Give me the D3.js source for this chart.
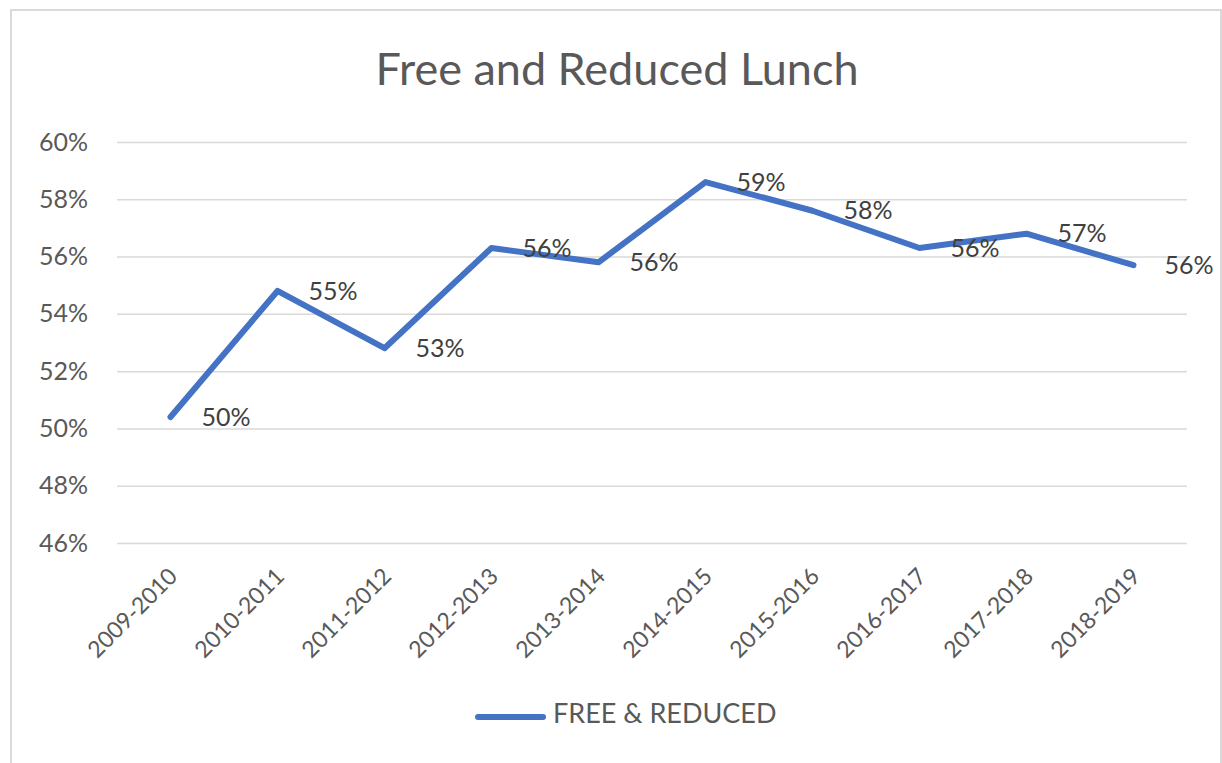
<!DOCTYPE html>
<html>
<head>
<meta charset="utf-8">
<script src="https://cdn.jsdelivr.net/npm/d3@7"></script>
<style>
  body { margin: 0; background: #fff; }
  svg { display: block; font-family: Lato, "Open Sans", sans-serif; }
</style>
</head>
<body>
<svg width="1222" height="763"></svg>
<script>
// chart data
var years = ['2009-2010', '2010-2011', '2011-2012', '2012-2013', '2013-2014',
             '2014-2015', '2015-2016', '2016-2017', '2017-2018', '2018-2019']
var freeReduced = [0.504, 0.548, 0.528, 0.563, 0.558, 0.586, 0.576, 0.563, 0.568, 0.557]
var yTicks = [0.46, 0.48, 0.50, 0.52, 0.54, 0.56, 0.58, 0.60]
var seriesName = 'FREE & REDUCED'
var title = 'Free and Reduced Lunch'

var svg = d3.select('svg')
var blue = '#4472c4'
var grid = '#d9d9d9'

// outer chart frame
svg.append('rect')
    .attr('x', 11).attr('y', 10)
    .attr('width', 1210).attr('height', 800)
    .attr('fill', 'none')
    .attr('stroke', grid)
    .attr('stroke-width', 2)

// scales
var x = d3.scalePoint().domain(years).range([117, 1187]).padding(0.5)
var y = d3.scaleLinear().domain([0.46, 0.60]).range([543, 142])

// title
svg.append('text')
    .attr('x', 617).attr('y', 85)
    .attr('text-anchor', 'middle')
    .attr('font-size', 45)
    .attr('fill', '#595959')
    .text(title)

// y axis with gridlines
var yAxis = d3.axisLeft(y)
    .tickValues(yTicks)
    .tickFormat(d3.format('.0%'))
    .tickSize(-(1187 - 117))
    .tickPadding(29)

var gy = svg.append('g')
    .attr('transform', 'translate(117,0)')
    .call(yAxis)
gy.select('.domain').remove()
gy.selectAll('line').attr('stroke', grid).attr('stroke-width', 1.5)
gy.selectAll('text')
    .attr('font-size', 25)
    .attr('font-family', 'Lato, sans-serif')
    .attr('fill', '#595959')

// x axis labels, rotated
var xAxis = d3.axisBottom(x).tickSize(0).tickPadding(0)
var gx = svg.append('g')
    .attr('transform', 'translate(0,543)')
    .call(xAxis)
gx.select('.domain').remove()
gx.selectAll('text')
    .attr('font-size', 23)
    .attr('font-family', 'Lato, sans-serif')
    .attr('fill', '#595959')
    .attr('text-anchor', 'end')
    .attr('dy', '0.35em')
    .attr('y', 0)
    .attr('transform', 'translate(2,29) rotate(-45)')

// the line
var line = d3.line()
    .x(function(d, i) { return x(years[i]) })
    .y(function(d) { return y(d) })

svg.append('path')
    .datum(freeReduced)
    .attr('d', line)
    .attr('fill', 'none')
    .attr('stroke', blue)
    .attr('stroke-width', 6)
    .attr('stroke-linejoin', 'round')
    .attr('stroke-linecap', 'round')

// data labels
svg.selectAll('.label')
    .data(freeReduced)
    .join('text')
    .attr('class', 'label')
    .attr('x', function(d, i) { return x(years[i]) + 31 })
    .attr('y', function(d) { return y(d) })
    .attr('dy', '0.35em')
    .attr('font-size', 25)
    .attr('fill', '#404040')
    .text(function(d) { return d3.format('.0%')(d) })

// legend
svg.append('line')
    .attr('x1', 478).attr('x2', 543)
    .attr('y1', 717).attr('y2', 717)
    .attr('stroke', blue)
    .attr('stroke-width', 6)
    .attr('stroke-linecap', 'round')

svg.append('text')
    .attr('x', 553).attr('y', 723)
    .attr('font-size', 27)
    .attr('fill', '#595959')
    .text(seriesName)
</script>
</body>
</html>
